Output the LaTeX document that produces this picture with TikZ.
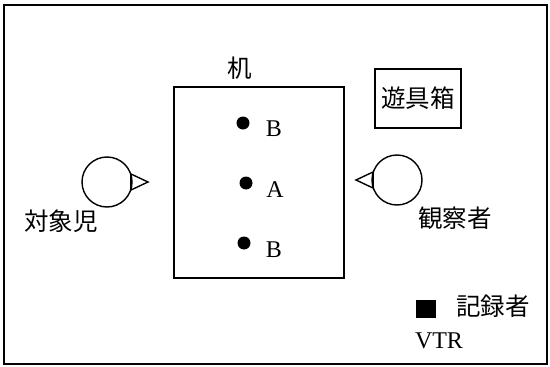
\documentclass[tikz,border=0pt]{standalone}
\usepackage{fontspec}
\setmainfont{Liberation Serif}
\newfontfamily\cjk{Noto Sans CJK JP}
\begin{document}
\begin{tikzpicture}[x=1pt,y=-1pt,
  frame/.style={draw=black,line width=1.8pt},
  thin/.style={draw=black,line width=1.4pt},
  jp/.style={font=\cjk\fontsize{24.5}{26}\selectfont,inner sep=0pt},
  lat/.style={font=\fontsize{24}{26}\selectfont,inner sep=0pt},
  dot/.style={circle,fill=black,minimum size=13pt,inner sep=0pt},
  person/.style={circle,draw=black,line width=1.4pt,minimum size=50pt,inner sep=0pt}]
\useasboundingbox (0,0) rectangle (550,367);
\fill[white] (0,0) rectangle (550,367);
\draw[frame] (4,5) rectangle (547,364);
% desk
\node[thin,draw,minimum width=170pt,minimum height=191pt,inner sep=0pt] (desk) at (259,182.5) {};
\node[jp] (deskl) at (240,68) {机};
\node[dot] (b1) at (243,123) {};
\node[dot] (a) at (246,183) {};
\node[dot] (b2) at (244,243) {};
\node[lat] (lb1) at (274,129) {B};
\node[lat] (la) at (275,190) {A};
\node[lat] (lb2) at (274,250) {B};
% toy box
\node[thin,draw,minimum width=86pt,minimum height=59pt,inner sep=0pt] (toy) at (418,98.5) {};
\node[jp] (toyl) at (toy.center) {遊具箱};
% child
\node[person] (child) at (107,182) {};
\draw[thin,line join=miter] (131,174) -- (148,182) -- (131,190);
\draw[thin] (131,174) -- (131,190);
\node[jp] (childl) at (61,221) {対象児};
% observer
\node[person] (obs) at (397,180) {};
\draw[thin,line join=miter] (373,172) -- (356,180) -- (373,188);
\draw[thin] (373,172) -- (373,188);
\node[jp] (obsl) at (455,218) {観察者};
% recorder
\node[fill=black,minimum width=20pt,minimum height=18pt,inner sep=0pt] (rec) at (426,309) {};
\node[jp] (recl) at (493,306) {記録者};
\node[lat] (vtr) at (439,341) {VTR};
\end{tikzpicture}
\end{document}
